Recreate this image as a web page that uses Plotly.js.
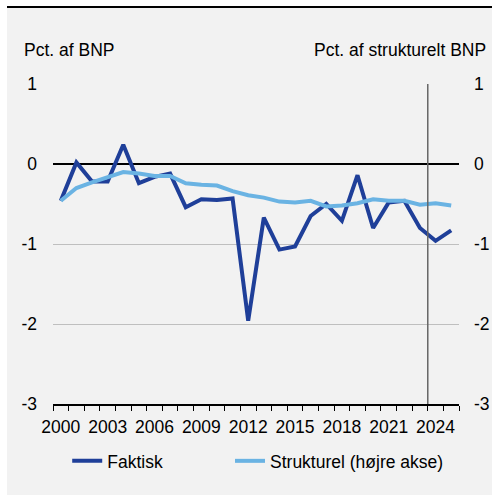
<!DOCTYPE html>
<html>
<head>
<meta charset="utf-8">
<script src="https://cdn.plot.ly/plotly-3.0.1.min.js"></script>
<style>
  html, body { margin: 0; padding: 0; background: #ffffff; }
  #frame { position: absolute; left: 7px; top: 6px; width: 485px; height: 489px;
           background: #f2f2f2; border-top: 2px solid #000; box-sizing: border-box; }
  #chart { position: absolute; left: 0; top: 0; width: 485px; height: 487px; }
</style>
</head>
<body>
<div id="frame"><div id="chart"></div></div>
<script>
// Data
const years = [2000,2001,2002,2003,2004,2005,2006,2007,2008,2009,2010,2011,2012,
               2013,2014,2015,2016,2017,2018,2019,2020,2021,2022,2023,2024,2025];
const faktisk = [-0.46,0.02,-0.22,-0.22,0.24,-0.24,-0.16,-0.12,-0.54,-0.44,-0.45,-0.43,-1.96,
                 -0.67,-1.07,-1.03,-0.65,-0.50,-0.71,-0.14,-0.80,-0.48,-0.46,-0.80,-0.96,-0.83];
const strukturel = [-0.46,-0.30,-0.23,-0.16,-0.10,-0.12,-0.15,-0.15,-0.24,-0.26,-0.27,-0.34,-0.39,
                    -0.42,-0.47,-0.48,-0.46,-0.53,-0.52,-0.49,-0.44,-0.46,-0.46,-0.51,-0.49,-0.52];
const tickYears = [2000,2003,2006,2009,2012,2015,2018,2021,2024];
const tickLabels = ["2000","2003","2006","2009","2012","2015","2018","2021","2024"];
const yTicks = [1,0,-1,-2,-3];
const yTickLabels = ["1","0","-1","-2","-3"];
const forecastBoundary = 2023.5;
const seriesNames = ["Faktisk","Strukturel (højre akse)"];
const leftTitle = "Pct. af BNP";
const rightTitle = "Pct. af strukturelt BNP";

const FONT = "Liberation Sans, Arial, sans-serif";
const FS = 17.5;

const traces = [
  { x: years, y: faktisk, name: seriesNames[0], type: "scatter", mode: "lines",
    line: { color: "#1f3f99", width: 4 }, yaxis: "y", legend: "legend", hoverinfo: "skip" },
  { x: years, y: strukturel, name: seriesNames[1], type: "scatter", mode: "lines",
    line: { color: "#6ab3e3", width: 4 }, yaxis: "y2", legend: "legend2", hoverinfo: "skip" }
];

const legendBase = { orientation: "h", xanchor: "left", y: -0.178, yanchor: "middle",
  bgcolor: "rgba(0,0,0,0)", font: { family: FONT, size: FS, color: "#000" } };

const layout = {
  width: 485, height: 487,
  margin: { l: 46, r: 33, t: 76, b: 91 },
  paper_bgcolor: "#f2f2f2", plot_bgcolor: "#f2f2f2",
  font: { family: FONT, size: FS, color: "#000" },
  showlegend: true,
  legend: Object.assign({}, legendBase, { x: 0.035 }),
  legend2: Object.assign({}, legendBase, { x: 0.436 }),
  xaxis: {
    range: [1999.5, 2025.5], tickmode: "array", tickvals: tickYears, ticktext: tickLabels,
    ticks: "", showgrid: false, zeroline: false,
    showline: true, linecolor: "#000", linewidth: 1.5, ticklabelstandoff: 6,
    minor: { tickmode: "linear", tick0: 1999.5, dtick: 1, ticks: "outside", ticklen: 5,
             tickwidth: 1, tickcolor: "#000", showgrid: false },
    tickfont: { family: FONT, size: FS, color: "#000" }, fixedrange: true
  },
  yaxis: {
    range: [-3, 1], tickmode: "array", tickvals: yTicks, ticktext: yTickLabels,
    ticks: "", showgrid: true, gridcolor: "#bfbfbf", gridwidth: 1,
    zeroline: true, zerolinecolor: "#000", zerolinewidth: 1.5,
    showline: false, ticklabelstandoff: 15,
    tickfont: { family: FONT, size: FS, color: "#000" }, fixedrange: true
  },
  yaxis2: {
    range: [-3, 1], overlaying: "y", side: "right", tickmode: "array",
    tickvals: yTicks, ticktext: yTickLabels, ticks: "", showgrid: false, zeroline: false,
    showline: false, ticklabelstandoff: 14,
    tickfont: { family: FONT, size: FS, color: "#000" }, fixedrange: true
  },
  shapes: [
    { type: "line", xref: "x", yref: "y", x0: forecastBoundary, x1: forecastBoundary,
      y0: -3, y1: 1, line: { color: "#666666", width: 1.5 }, layer: "above" }
  ],
  annotations: [
    { text: leftTitle, xref: "paper", yref: "paper", x: -0.076, y: 1.106,
      xanchor: "left", yanchor: "middle", showarrow: false,
      font: { family: FONT, size: FS, color: "#000" } },
    { text: rightTitle, xref: "paper", yref: "paper", x: 1.071, y: 1.106,
      xanchor: "right", yanchor: "middle", showarrow: false,
      font: { family: FONT, size: FS, color: "#000" } }
  ]
};

Plotly.newPlot("chart", traces, layout, { displayModeBar: false, staticPlot: true });
</script>
</body>
</html>
